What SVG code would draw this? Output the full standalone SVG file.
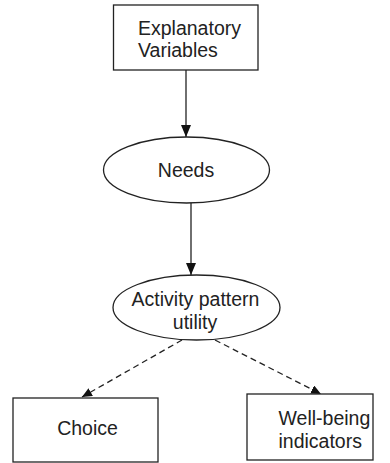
<svg xmlns="http://www.w3.org/2000/svg" width="390" height="463" viewBox="0 0 390 463">
<defs>
<style>
.box{fill:#fff;stroke:#222;stroke-width:1.3}
.t{font-family:"Liberation Sans",Arial,sans-serif;font-size:19.5px;fill:#222}
.c{text-anchor:middle}
.ln{stroke:#222;stroke-width:1.3;fill:none}
.d{stroke-dasharray:6,4}
</style>
<marker id="ah" markerWidth="10" markerHeight="9" refX="10" refY="4.5" orient="auto" markerUnits="userSpaceOnUse" viewBox="0 0 10 9">
<path d="M0,0 L10,4.5 L0,9 z" fill="#111"/>
</marker>
<marker id="ah2" markerWidth="12" markerHeight="10" refX="12" refY="5" orient="auto" markerUnits="userSpaceOnUse" viewBox="0 0 12 10">
<path d="M0,0 L12,5 L0,10 z" fill="#111"/>
</marker>
</defs>
<rect width="390" height="463" fill="#fff"/>
<g id="connectors">
<line class="ln" x1="186" y1="70" x2="186" y2="137" marker-end="url(#ah2)"/>
<line class="ln" x1="191" y1="203" x2="191" y2="275" marker-end="url(#ah2)"/>
<line class="ln d" x1="182" y1="340" x2="82" y2="397" marker-end="url(#ah)"/>
<line class="ln d" x1="215" y1="340" x2="321" y2="394" marker-end="url(#ah)"/>
</g>
<g id="explanatory">
<rect class="box" x="113.5" y="5" width="144.5" height="65"/>
<text class="t" x="138" y="35">Explanatory</text>
<text class="t" x="138" y="57">Variables</text>
</g>
<g id="needs">
<ellipse class="box" cx="186.5" cy="170" rx="83" ry="33"/>
<text class="t c" x="186" y="177">Needs</text>
</g>
<g id="activity">
<ellipse class="box" cx="196.5" cy="307.5" rx="83.5" ry="32.5"/>
<text class="t c" x="195.5" y="306">Activity pattern</text>
<text class="t c" x="195" y="329">utility</text>
</g>
<g id="choice">
<rect class="box" x="13" y="398" width="145" height="64"/>
<text class="t c" x="87.5" y="435">Choice</text>
</g>
<g id="wellbeing">
<rect class="box" x="247" y="394" width="126" height="66"/>
<text class="t" x="278.5" y="425">Well-being</text>
<text class="t" x="278.5" y="448">indicators</text>
</g>
</svg>
